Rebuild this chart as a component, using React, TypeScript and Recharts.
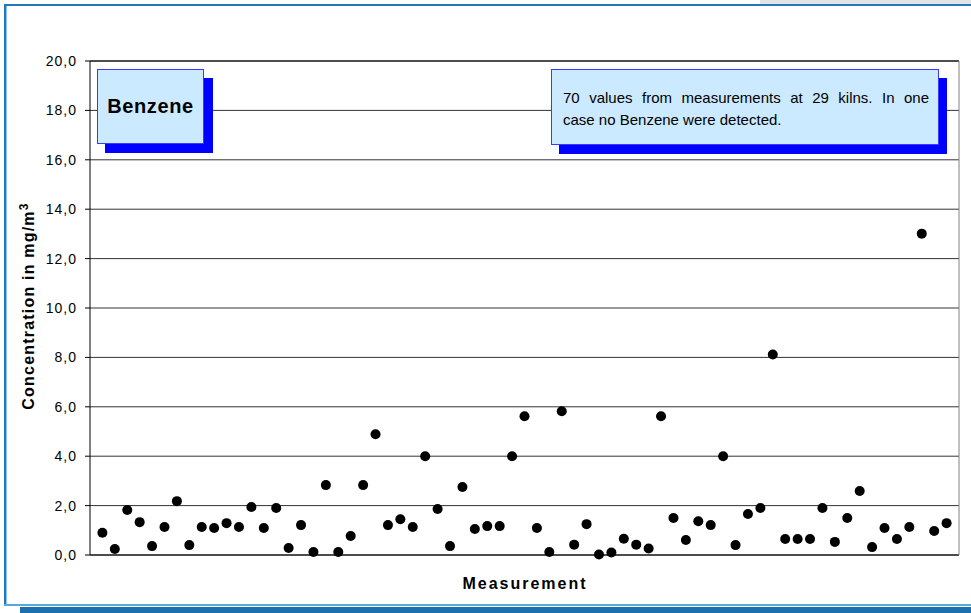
import React from 'react';
import {
  ScatterChart,
  Scatter,
  XAxis,
  YAxis,
  CartesianGrid,
  ReferenceLine,
} from 'recharts';

// measured benzene concentrations, mg/m3, in measurement order
const benzene = [
  0.9, 0.24, 1.82, 1.33, 0.36, 1.13, 2.18, 0.4, 1.13, 1.09,
  1.29, 1.13, 1.94, 1.09, 1.9, 0.28, 1.21, 0.12, 2.83, 0.12,
  0.77, 2.83, 4.89, 1.21, 1.45, 1.13, 4.0, 1.86, 0.36, 2.75,
  1.05, 1.17, 1.17, 4.0, 5.62, 1.09, 0.12, 5.82, 0.42, 1.25,
  0.02, 0.1, 0.66, 0.42, 0.26, 5.62, 1.5, 0.61, 1.37, 1.21,
  4.0, 0.4, 1.66, 1.9, 8.12, 0.65, 0.65, 0.65, 1.9, 0.53,
  1.5, 2.59, 0.32, 1.09, 0.65, 1.13, 13.01, 0.97, 1.29,
];
const yTicks = [0, 2, 4, 6, 8, 10, 12, 14, 16, 18, 20];
const title = 'Benzene';
const noteLine1 = '70 values from measurements at 29 kilns. In one';
const noteLine2 = 'case no Benzene were detected.';

const data = benzene.map((v, i) => ({ x: i + 1, y: v }));

const font = '"Liberation Sans", Arial, sans-serif';
const frameBlue = '#1f7bb9';

const Dot = (props: any) => <circle cx={props.cx} cy={props.cy} r={5} fill="#000" />;

const abs = (s: React.CSSProperties): React.CSSProperties => ({ position: 'absolute', ...s });

export default function App() {
  return (
    <div style={abs({ left: 0, top: 0, width: 971, height: 613, background: '#fff', fontFamily: font, overflow: 'hidden' })}>
      {/* frame */}
      <div style={abs({ left: 760, top: 0, width: 211, height: 4, background: '#e4e4e4' })} />
      <div style={abs({ left: 4, top: 4, width: 967, height: 2, background: frameBlue })} />
      <div style={abs({ left: 4, top: 4, width: 2, height: 602, background: frameBlue })} />
      <div style={abs({ left: 6, top: 6, width: 1, height: 599, background: '#8cc3e6' })} />
      <div style={abs({ left: 4, top: 604, width: 967, height: 2, background: '#5aa8d8' })} />
      <div style={abs({ left: 20, top: 607, width: 951, height: 6, background: '#1b70ad' })} />

      <div style={abs({ left: 0, top: 0 })}>
        <ScatterChart width={971} height={613} margin={{ top: 61, right: 12, bottom: 58, left: 30 }}>
          <CartesianGrid vertical={false} stroke="#333" strokeWidth={1} />
          <XAxis type="number" dataKey="x" domain={[0, 70]} hide />
          <YAxis
            type="number"
            dataKey="y"
            domain={[0, 20]}
            ticks={yTicks}
            width={60}
            interval={0}
            tickFormatter={(v: number) => v.toFixed(1).replace('.', ',')}
            tick={{ fontSize: 14, fill: '#000', fontFamily: font, letterSpacing: 1 }}
            tickSize={5}
            tickMargin={8}
            axisLine={{ stroke: '#000' }}
            tickLine={{ stroke: '#000' }}
          />
          <ReferenceLine y={0} stroke="#000" />
          <ReferenceLine y={20} stroke="#000" />
          <ReferenceLine x={70} stroke="#808080" />
          <Scatter data={data} shape={Dot} isAnimationActive={false} />
        </ScatterChart>
      </div>

      {/* y axis title */}
      <div
        style={abs({
          left: 29 - 140,
          top: 306 - 11,
          width: 280,
          height: 22,
          lineHeight: '22px',
          textAlign: 'center',
          transform: 'rotate(-90deg)',
          fontWeight: 'bold',
          fontSize: 16,
          letterSpacing: 1.2,
          color: '#000',
          whiteSpace: 'nowrap',
        })}
      >
        Concentration in mg/m<sup style={{ fontSize: 12, verticalAlign: 'super', lineHeight: 0 }}>3</sup>
      </div>

      {/* x axis title */}
      <div
        style={abs({
          left: 525 - 100,
          top: 575,
          width: 200,
          textAlign: 'center',
          fontWeight: 'bold',
          fontSize: 16,
          letterSpacing: 2,
          color: '#000',
        })}
      >
        Measurement
      </div>

      {/* Benzene label box */}
      <div style={abs({ left: 105, top: 78, width: 108, height: 75, background: '#0000ff' })} />
      <div
        style={abs({
          left: 97,
          top: 69,
          width: 105,
          height: 73,
          background: '#cceaff',
          border: '1px solid #3a3aff',
          display: 'flex',
          alignItems: 'center',
          justifyContent: 'center',
          fontWeight: 'bold',
          fontSize: 20,
          letterSpacing: 0.6,
          color: '#000',
        })}
      >
        {title}
      </div>

      {/* note box */}
      <div style={abs({ left: 559, top: 78, width: 388, height: 76, background: '#0000ff' })} />
      <div
        style={abs({
          left: 551,
          top: 69,
          width: 386,
          height: 74,
          background: '#cceaff',
          border: '1px solid #3a3aff',
          color: '#000',
          fontSize: 15,
        })}
      >
        <div style={abs({ left: 11, top: 17, width: 366, lineHeight: '22px' })}>
          <div style={{ textAlign: 'justify', textAlignLast: 'justify', whiteSpace: 'nowrap' }}>{noteLine1}</div>
          <div style={{ textAlign: 'left' }}>{noteLine2}</div>
        </div>
      </div>
    </div>
  );
}
